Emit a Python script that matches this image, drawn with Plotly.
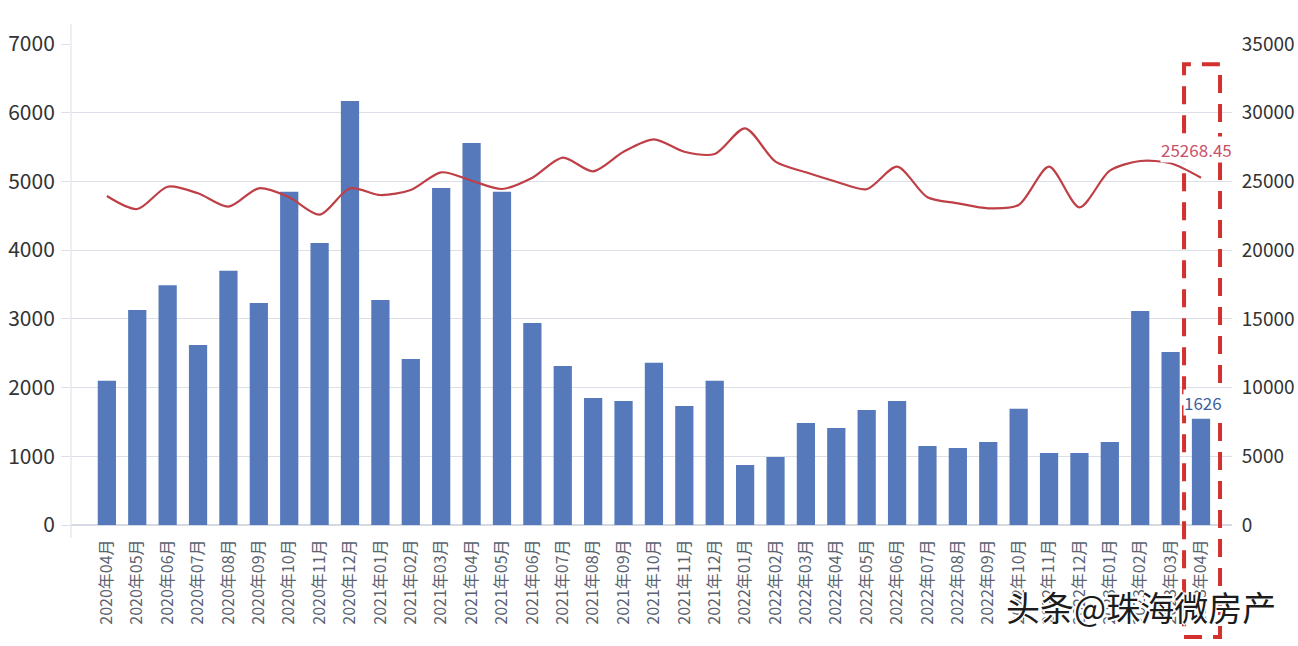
import plotly.graph_objects as go

FONT = "Noto Sans CJK SC, Noto Sans, sans-serif"

# Months on the x axis
months = [
    "2020年04月", "2020年05月", "2020年06月", "2020年07月", "2020年08月", "2020年09月",
    "2020年10月", "2020年11月", "2020年12月", "2021年01月", "2021年02月", "2021年03月",
    "2021年04月", "2021年05月", "2021年06月", "2021年07月", "2021年08月", "2021年09月",
    "2021年10月", "2021年11月", "2021年12月", "2022年01月", "2022年02月", "2022年03月",
    "2022年04月", "2022年05月", "2022年06月", "2022年07月", "2022年08月", "2022年09月",
    "2022年10月", "2022年11月", "2022年12月", "2023年01月", "2023年02月", "2023年03月",
    "2023年04月",
]

# Bars, left axis
volume = [
    2100, 3130, 3490, 2620, 3700, 3230, 4850, 4105, 6170, 3275, 2416, 4905, 5560,
    4850, 2940, 2315, 1850, 1805, 2360, 1730, 2100, 873, 990, 1485, 1410, 1675,
    1805, 1150, 1120, 1208, 1690, 1048, 1048, 1208, 3115, 2518, 1545,
]

# Line, right axis
price = [
    23940, 22994, 24616, 24136, 23161, 24500, 23845, 22579, 24500, 24012, 24376,
    25664, 25053, 24449, 25271, 26727, 25737, 27163, 28066, 27163, 26995, 28866,
    26436, 25664, 24980, 24434, 26072, 23845, 23408, 23044, 23285, 26072, 23117,
    25780, 26486, 26319, 25268.45,
]

left_ticks = [0, 1000, 2000, 3000, 4000, 5000, 6000, 7000]
right_ticks = [0, 5000, 10000, 15000, 20000, 25000, 30000, 35000]

fig = go.Figure()
fig.add_trace(go.Bar(
    x=months, y=volume, width=0.6,
    marker=dict(color="#5579ba", line=dict(width=0)),
    yaxis="y",
))
fig.add_trace(go.Scatter(
    x=months, y=price, mode="lines",
    line=dict(color="#bf3f47", width=2.2, shape="spline", smoothing=0.8),
    yaxis="y2",
))

# Value labels on the last month
fig.add_annotation(
    x=months[-1], y=price[-1], yref="y2", text="25268.45", showarrow=False,
    yshift=28, xshift=-5, bgcolor="#ffffff", borderpad=0,
    font=dict(family=FONT, size=17, color="#c8506a"),
)
fig.add_annotation(
    x=months[-1], y=volume[-1], yref="y", text="1626", showarrow=False,
    yshift=16, xshift=2, bgcolor="#ffffff", borderpad=0,
    font=dict(family=FONT, size=17, color="#3f5f9f"),
)

# Red dashed box around the last month
fig.add_shape(
    type="rect", xref="paper", yref="paper",
    x0=0.9587, x1=0.9897, y0=-0.233, y1=0.958,
    line=dict(color="#d3312d", width=4, dash="18px,11px"),
)
# Y axis line runs past the plot at both ends
fig.add_shape(
    type="line", xref="paper", yref="paper", x0=0, x1=0, y0=-0.027, y1=1.042,
    line=dict(color="#dcdfe8", width=1),
)
# Site watermark
fig.add_annotation(
    xref="paper", yref="paper", x=1.0396, y=-0.17, xanchor="right", yanchor="middle",
    text="头条@珠海微房产", showarrow=False,
    font=dict(family=FONT, size=34, color="#1c1c1c",
              shadow="2px 0 #fff, -2px 0 #fff, 0 2px #fff, 0 -2px #fff"),
)

fig.update_layout(
    width=1298, height=646,
    margin=dict(l=71, r=66, t=44, b=121),
    paper_bgcolor="#ffffff", plot_bgcolor="#ffffff",
    showlegend=False,
    xaxis=dict(
        type="category", range=[-1.18, 37.02], tickangle=-90, automargin=False,
        tickmode="array", tickvals=months, ticktext=months,
        tickfont=dict(family=FONT, size=16, color="#5a6270"),
        ticks="outside", ticklen=7, tickcolor="rgba(0,0,0,0)",
        showgrid=False, showline=False, zeroline=False,
    ),
    yaxis=dict(
        range=[0, 7000], tickvals=left_ticks, automargin=False,
        tickfont=dict(family=FONT, size=21, color="#333"),
        gridcolor="#dcdfe8", gridwidth=1, zeroline=True, zerolinecolor="#d5d9e4",
        ticks="outside", ticklen=9, tickcolor="#dcdfe8", showline=False,
        ticklabelstandoff=2,
    ),
    yaxis2=dict(
        range=[0, 35000], tickvals=right_ticks, overlaying="y", side="right",
        tickformat="d", automargin=False,
        tickfont=dict(family=FONT, size=19, color="#333"),
        showgrid=False, zeroline=False, showline=False,
        ticks="outside", ticklen=5, tickcolor="rgba(0,0,0,0)",
    ),
)

fig.write_html(
    "out.html",
    config={"displayModeBar": False},
    post_script="document.body.style.margin = '0';",
)
